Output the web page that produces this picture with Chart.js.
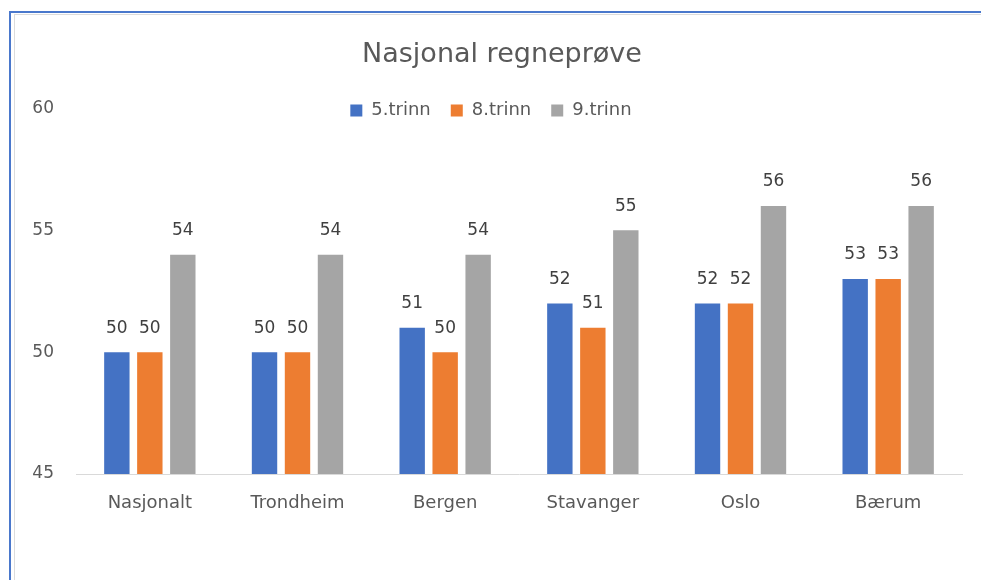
<!DOCTYPE html>
<html>
<head>
<meta charset="utf-8">
<script src="https://cdn.jsdelivr.net/npm/chart.js@4"></script>
<style>
  html, body { margin: 0; padding: 0; background: #ffffff; }
  #wrap { position: relative; width: 981px; height: 580px; overflow: hidden; }
  #rankChart { position: absolute; left: 0; top: 0; }
  .edge { position: absolute; pointer-events: none; }
</style>
</head>
<body>
<div id="wrap">
  <canvas id="rankChart" width="981" height="580"></canvas>
  <div class="edge" style="left:9px; top:11px; width:972px; height:2px; background:#4a78cc;"></div>
  <div class="edge" style="left:9px; top:11px; width:2px; height:569px; background:#4a78cc;"></div>
  <div class="edge" style="left:14px; top:14px; width:967px; height:1px; background:#dcdcdc;"></div>
  <div class="edge" style="left:14px; top:14px; width:1px; height:566px; background:#dcdcdc;"></div>
</div>
<script>
const categories = ["Nasjonalt", "Trondheim", "Bergen", "Stavanger", "Oslo", "Bærum"];
const seriesNames = ["5.trinn", "8.trinn", "9.trinn"];
const trinn5 = [50, 50, 51, 52, 52, 53];
const trinn8 = [50, 50, 50, 51, 52, 53];
const trinn9 = [54, 54, 54, 55, 56, 56];
const yTicks = [45, 50, 55, 60];

const colors = ["#4472c4", "#ed7d31", "#a5a5a5"];
const fontFamily = "'DejaVu Sans', sans-serif";

// verdiene over hver søyle
const valueLabels = {
  id: "valueLabels",
  afterDatasetsDraw(chart) {
    const ctx = chart.ctx;
    ctx.save();
    ctx.font = "17px " + fontFamily;
    ctx.fillStyle = "#404040";
    ctx.textAlign = "center";
    ctx.textBaseline = "middle";
    chart.data.datasets.forEach((ds, i) => {
      chart.getDatasetMeta(i).data.forEach((bar, j) => {
        ctx.fillText(ds.data[j], bar.x, bar.y - 24);
      });
    });
    ctx.restore();
  },
};

// flytter tittel og forklaring litt, som i Excel
const nudge = {
  id: "nudge",
  afterLayout(chart) {
    chart.legend.top += 21;
    chart.legend.bottom += 21;
    chart.titleBlock.left += 11;
    chart.titleBlock.right += 11;
  },
};

const ctx = document.getElementById("rankChart").getContext("2d");
const rankChart = new Chart(ctx, {
  type: "bar",
  data: {
    labels: categories,
    datasets: [
      { label: seriesNames[0], data: trinn5, backgroundColor: colors[0] },
      { label: seriesNames[1], data: trinn8, backgroundColor: colors[1] },
      { label: seriesNames[2], data: trinn9, backgroundColor: colors[2] },
    ],
  },
  options: {
    responsive: false,
    animation: false,
    categoryPercentage: 0.67,
    barPercentage: 0.77,
    layout: {
      padding: { left: 20, right: 19, top: 0, bottom: 66 },
    },
    plugins: {
      title: {
        display: true,
        text: "Nasjonal regneprøve",
        color: "#595959",
        font: { family: fontFamily, size: 27, weight: "normal" },
        padding: { top: 39, bottom: -11 },
      },
      legend: {
        position: "top",
        labels: {
          boxWidth: 12,
          boxHeight: 12,
          padding: 20,
          color: "#595959",
          font: { family: fontFamily, size: 18 },
        },
      },
      tooltip: { enabled: false },
    },
    scales: {
      x: {
        grid: { display: false, drawTicks: false },
        border: { display: true, color: "#d9d9d9", width: 1 },
        ticks: {
          color: "#595959",
          padding: 19,
          font: { family: fontFamily, size: 18 },
        },
        afterFit: (axis) => {
          axis.height = 40;
        },
      },
      y: {
        min: 45,
        max: 60,
        grid: { display: false, drawTicks: false },
        border: { display: false },
        ticks: {
          color: "#595959",
          padding: 22,
          font: { family: fontFamily, size: 17 },
        },
        afterBuildTicks: (axis) => {
          axis.ticks = yTicks.map((v) => ({ value: v }));
        },
        afterFit: (axis) => {
          axis.width = 56;
        },
      },
    },
  },
  plugins: [valueLabels, nudge],
});
</script>
</body>
</html>
